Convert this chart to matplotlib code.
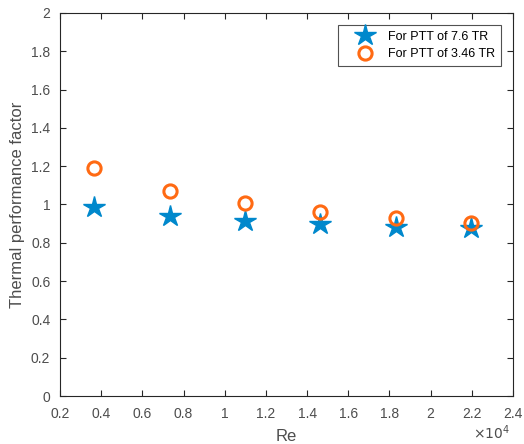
import matplotlib
matplotlib.use("Agg")
import matplotlib.pyplot as plt
from matplotlib.ticker import FixedLocator, FuncFormatter

re_values = [3660, 7320, 10980, 14640, 18300, 21960]
tpf_76 = [0.986, 0.942, 0.916, 0.899, 0.885, 0.878]
tpf_346 = [1.193, 1.070, 1.007, 0.962, 0.930, 0.905]
series_labels = ["For PTT of 7.6 TR", "For PTT of 3.46 TR"]
x_ticks = [0.2, 0.4, 0.6, 0.8, 1.0, 1.2, 1.4, 1.6, 1.8, 2.0, 2.2, 2.4]
y_ticks = [0, 0.2, 0.4, 0.6, 0.8, 1.0, 1.2, 1.4, 1.6, 1.8, 2.0]

plt.rcParams['font.family'] = ['Liberation Sans', 'DejaVu Sans']
axc = '#262626'

fig = plt.figure(figsize=(5.24, 4.44), dpi=100)
ax = fig.add_axes([60/524, 1-396/444, 453/524, 383/444])

xs = [r/1e4 for r in re_values]
ax.plot(xs, tpf_76, linestyle='none', marker='*', markersize=16,
        color='#0088CC', markeredgecolor='#0088CC', label=series_labels[0], zorder=2)
ax.plot(xs, tpf_346, linestyle='none', marker='o', markersize=9.5,
        markerfacecolor='none', markeredgecolor='#FF6A13', markeredgewidth=2.2,
        label=series_labels[1], zorder=3)

ax.set_xlim(0.2, 2.4)
ax.set_ylim(0, 2)
ax.xaxis.set_major_locator(FixedLocator(x_ticks))
ax.yaxis.set_major_locator(FixedLocator(y_ticks))
fmt = FuncFormatter(lambda v, p: ('%g' % round(v, 2)))
ax.xaxis.set_major_formatter(fmt)
ax.yaxis.set_major_formatter(fmt)
ax.tick_params(direction='in', length=4, width=0.8, colors=axc, labelcolor='#4d4d4d',
               labelsize=10, top=True, right=True)
ax.tick_params(axis='x', pad=8)
ax.tick_params(axis='y', pad=7)
for s in ax.spines.values():
    s.set_color(axc)
    s.set_linewidth(0.8)

ax.set_xlabel('Re', fontsize=12, color='#4d4d4d', labelpad=6)
ax.set_ylabel('Thermal performance factor', fontsize=12, color='#4d4d4d', labelpad=4)
fig.text(510/524, 1-439/444, r'$\times10^{4}$', fontsize=10, color='#4d4d4d', ha='right', va='baseline')

leg = ax.legend(loc='upper right', bbox_to_anchor=((501-60)/453, (396-25)/383), fontsize=9,
                frameon=True, fancybox=False, edgecolor=axc, borderpad=0.45,
                borderaxespad=0, handletextpad=0.15, labelspacing=0.45, handlelength=3.4)
leg.get_frame().set_linewidth(0.8)

fig.savefig('out.png', dpi=100)
